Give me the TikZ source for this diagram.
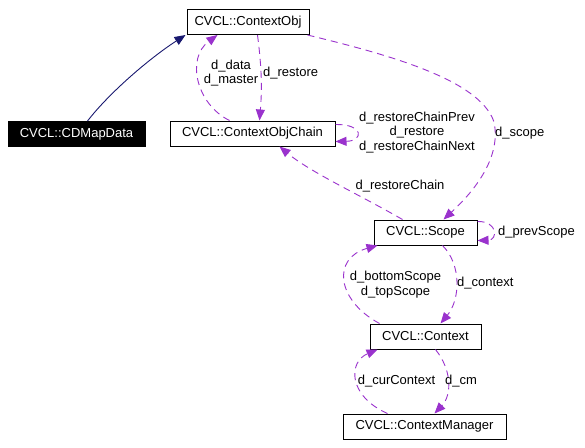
\documentclass[tikz,border=0pt]{standalone}
\usepackage{fontspec}
\setmainfont{Liberation Sans}
\usetikzlibrary{arrows.meta,calc}
\definecolor{edgep}{HTML}{9A32CD}
\definecolor{navyedge}{HTML}{191970}
\begin{document}
\begin{tikzpicture}[x=1pt,y=-1pt,
  cls/.style={draw=black, line width=1pt, minimum height=25pt, inner sep=0pt, font=\fontsize{13}{15}\selectfont},
  lbl/.style={inner sep=0pt, align=center, font=\fontsize{13}{14.5}\selectfont},
  rel/.style={draw=edgep, line width=0.9pt, dash pattern=on 7pt off 5pt, -{Triangle[length=11pt,width=9pt]}, fill=none},
  inh/.style={draw=navyedge, line width=0.9pt, -{Triangle[length=11pt,width=9pt]}}]
\fill[white] (0,0) rectangle (585,447);
\useasboundingbox (0,0) rectangle (585,447);

\node[cls, minimum width=122pt] (obj) at (248,22) {CVCL::ContextObj};
\node[cls, minimum width=137pt, fill=black, text=white] (map) at (76.5,134) {CVCL::CDMapData};
\node[cls, minimum width=165pt] (chain) at (252.5,133.5) {CVCL::ContextObjChain};
\node[cls, minimum width=103pt] (scope) at (425.5,232.5) {CVCL::Scope};
\node[cls, minimum width=111pt] (ctx) at (425.5,336.5) {CVCL::Context};
\node[cls, minimum width=163pt] (mgr) at (424.5,426.5) {CVCL::ContextManager};

% inheritance
\draw[inh] ($(map.north west)+(80,0)$) .. controls (110,92) and (150,58) .. ($(obj.south west)+(-1,0)$);

% d_data / d_master
\draw[rel] ($(chain.north west)+(60,0)$) .. controls (196,104) and (186,58) .. ($(obj.south west)+(31,0)$);
\node[lbl] (l1) at (231,73) {d\_data\\d\_master};

% d_restore
\draw[rel] ($(obj.south west)+(71,0)$) .. controls (262,70) and (262,90) .. ($(chain.north west)+(90,0)$);
\node[lbl, anchor=west] (l2) at (263,73) {d\_restore};

% chain self loop
\draw[rel] ($(chain.north east)+(0,4)$) .. controls (364,124) and (364,141) .. ($(chain.south east)+(0,-5)$);
\node[lbl] (l3) at (417,132.5) {d\_restoreChainPrev\\d\_restore\\d\_restoreChainNext};

% d_scope
\coordinate (sc1) at (494,122);
\draw[rel] ($(obj.south east)+(-2,0)$) .. controls (390,55) and (480,80) .. (sc1) .. controls (502,160) and (470,195) .. ($(scope.north west)+(70,0)$);
\node[lbl, anchor=west] (l4) at (495,133) {d\_scope};

% d_restoreChain
\draw[rel] ($(scope.north west)+(29,0)$) .. controls (360,195) and (310,172) .. ($(chain.south west)+(110,0)$);
\node[lbl] (l5) at (400,186) {d\_restoreChain};

% d_prevScope
\draw[rel] ($(scope.north east)+(0,2)$) .. controls (498,221) and (498,240) .. ($(scope.south east)+(0,-5)$);
\node[lbl, anchor=west] (l6) at (498,232) {d\_prevScope};

% d_bottomScope / d_topScope
\draw[rel] ($(ctx.north west)+(10,0)$) .. controls (336,300) and (332,258) .. ($(scope.south west)+(4,0)$);
\node[lbl] (l7) at (395.5,284.5) {d\_bottomScope\\d\_topScope};

% d_context
\draw[rel] ($(scope.south west)+(69,0)$) .. controls (462,265) and (460,300) .. ($(ctx.north west)+(71,0)$);
\node[lbl, anchor=west] (l8) at (457,283) {d\_context};

% d_curContext
\draw[rel] ($(mgr.north west)+(45,0)$) .. controls (348,396) and (348,362) .. ($(ctx.south west)+(8,0)$);
\node[lbl] (l9) at (396.5,381) {d\_curContext};

% d_cm
\draw[rel] ($(ctx.south west)+(66,0)$) .. controls (452,370) and (452,395) .. ($(mgr.north west)+(92,0)$);
\node[lbl, anchor=west] (l10) at (445,381) {d\_cm};
\end{tikzpicture}
\end{document}
